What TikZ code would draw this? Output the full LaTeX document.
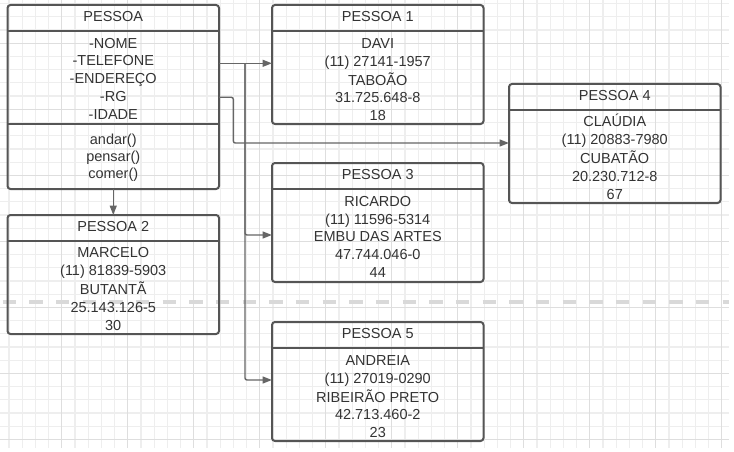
\documentclass[tikz,border=0pt]{standalone}
\usepackage{fontspec}
\setmainfont{Liberation Sans}
\usetikzlibrary{arrows.meta}
\definecolor{gridminor}{HTML}{EEEEEE}
\definecolor{gridmajor}{HTML}{DEDEDE}
\definecolor{boxline}{HTML}{555555}
\definecolor{txt}{HTML}{333333}
\definecolor{connc}{HTML}{666666}
\definecolor{dashc}{HTML}{D9D9D9}
\tikzset{
  umlbox/.style={draw=boxline, line width=2pt, rounded corners=3pt, inner sep=0pt, outer sep=0pt,
    anchor=north west, minimum width=211.5pt, minimum height=119pt},
  sepline/.style={draw=boxline, line width=2pt},
  hdr/.style={text=txt, inner sep=0pt, font=\fontsize{14.5}{17.8}\selectfont},
  body/.style={text=txt, inner sep=0pt, anchor=north, align=center, font=\fontsize{14.5}{17.8}\selectfont},
  meth/.style={text=txt, inner sep=0pt, anchor=north, align=center, font=\fontsize{14.5}{17.2}\selectfont},
  conn/.style={draw=connc, line width=1.4pt, rounded corners=2pt, -{Triangle[length=9.5pt,width=7pt]}},
}
\begin{document}
\begin{tikzpicture}[x=1pt,y=-1pt]
\useasboundingbox (0,0) rectangle (734,452);
% grid
\foreach \i in {0,...,54} { \draw[gridminor, line width=1.2pt] ({8.9+13.2*\i},0) -- ({8.9+13.2*\i},448); }
\foreach \k in {0,...,33} { \draw[gridminor, line width=1.2pt] (0,{3.7+13.2*\k}) -- (729,{3.7+13.2*\k}); }
\foreach \i in {4,9,...,54} { \draw[gridmajor, line width=1.2pt] ({8.9+13.2*\i},0) -- ({8.9+13.2*\i},448); }
\foreach \k in {3,8,...,33} { \draw[gridmajor, line width=1.2pt] (0,{3.7+13.2*\k}) -- (729,{3.7+13.2*\k}); }
% dashed divider
\draw[dashc, line width=3.5pt, dash pattern=on 13.33pt off 13.33pt] (2.7,302) -- (729,302);

% PESSOA (class)
\node[umlbox, minimum height=184pt] (P) at (7.5,5) {};
\draw[sepline] (P.north west) ++(0,26.4) -- ++(211.5,0);
\draw[sepline] (P.north west) ++(0,118.5) -- ++(211.5,0);
\node[hdr] (Ph) at (113.25,18.2) {\strut PESSOA};
\node[body] (Pa) at (113.25,35.5) {\strut -NOME\\\strut -TELEFONE\\\strut -ENDEREÇO\\\strut -RG\\\strut -IDADE};
\node[meth] (Pm) at (113.25,132.2) {\strut andar()\\\strut pensar()\\\strut comer()};

% PESSOA 1
\node[umlbox] (P1) at (272,5) {};
\draw[sepline] (P1.north west) ++(0,26.4) -- ++(211.5,0);
\node[hdr] (P1h) at (377.75,18.2) {\strut PESSOA 1};
\node[body] (P1b) at (377.75,35.6) {\strut DAVI\\\strut (11) 27141-1957\\\strut TABOÃO\\\strut 31.725.648-8\\\strut 18};

% PESSOA 3
\node[umlbox] (P3) at (272,163) {};
\draw[sepline] (P3.north west) ++(0,26.4) -- ++(211.5,0);
\node[hdr] (P3h) at (377.75,176.2) {\strut PESSOA 3};
\node[body] (P3b) at (377.75,193.6) {\strut RICARDO\\\strut (11) 11596-5314\\\strut EMBU DAS ARTES\\\strut 47.744.046-0\\\strut 44};

% PESSOA 5
\node[umlbox] (P5) at (272,322) {};
\draw[sepline] (P5.north west) ++(0,26.4) -- ++(211.5,0);
\node[hdr] (P5h) at (377.75,335.2) {\strut PESSOA 5};
\node[body] (P5b) at (377.75,352.6) {\strut ANDREIA\\\strut (11) 27019-0290\\\strut RIBEIRÃO PRETO\\\strut 42.713.460-2\\\strut 23};

% PESSOA 4
\node[umlbox] (P4) at (509,84) {};
\draw[sepline] (P4.north west) ++(0,26.4) -- ++(211.5,0);
\node[hdr] (P4h) at (614.75,97.2) {\strut PESSOA 4};
\node[body] (P4b) at (614.75,114.2) {\strut CLAÚDIA\\\strut (11) 20883-7980\\\strut CUBATÃO\\\strut 20.230.712-8\\\strut 67};

% PESSOA 2
\node[umlbox] (P2) at (7.5,215) {};
\draw[sepline] (P2.north west) ++(0,26.4) -- ++(211.5,0);
\node[hdr] (P2h) at (113.25,228.2) {\strut PESSOA 2};
\node[body] (P2b) at (113.25,245.3) {\strut MARCELO\\\strut (11) 81839-5903\\\strut BUTANTÃ\\\strut 25.143.126-5\\\strut 30};

% connectors
\coordinate (j1) at (245,63.3);
\coordinate (j2) at (233.3,97.3);
\coordinate (y3) at (0,235);
\coordinate (y4) at (0,143);
\coordinate (y5) at (0,380);
\draw[conn] (P.east |- j1) -- (j1) -- (P1.west |- j1);
\draw[conn] (j1) |- (P3.west |- y3);
\draw[conn] (j1) |- (P5.west |- y5);
\draw[conn] (P.east |- j2) -- (j2) |- (P4.west |- y4);
\draw[conn] (P.south) -- (P2.north);
\end{tikzpicture}
\end{document}
